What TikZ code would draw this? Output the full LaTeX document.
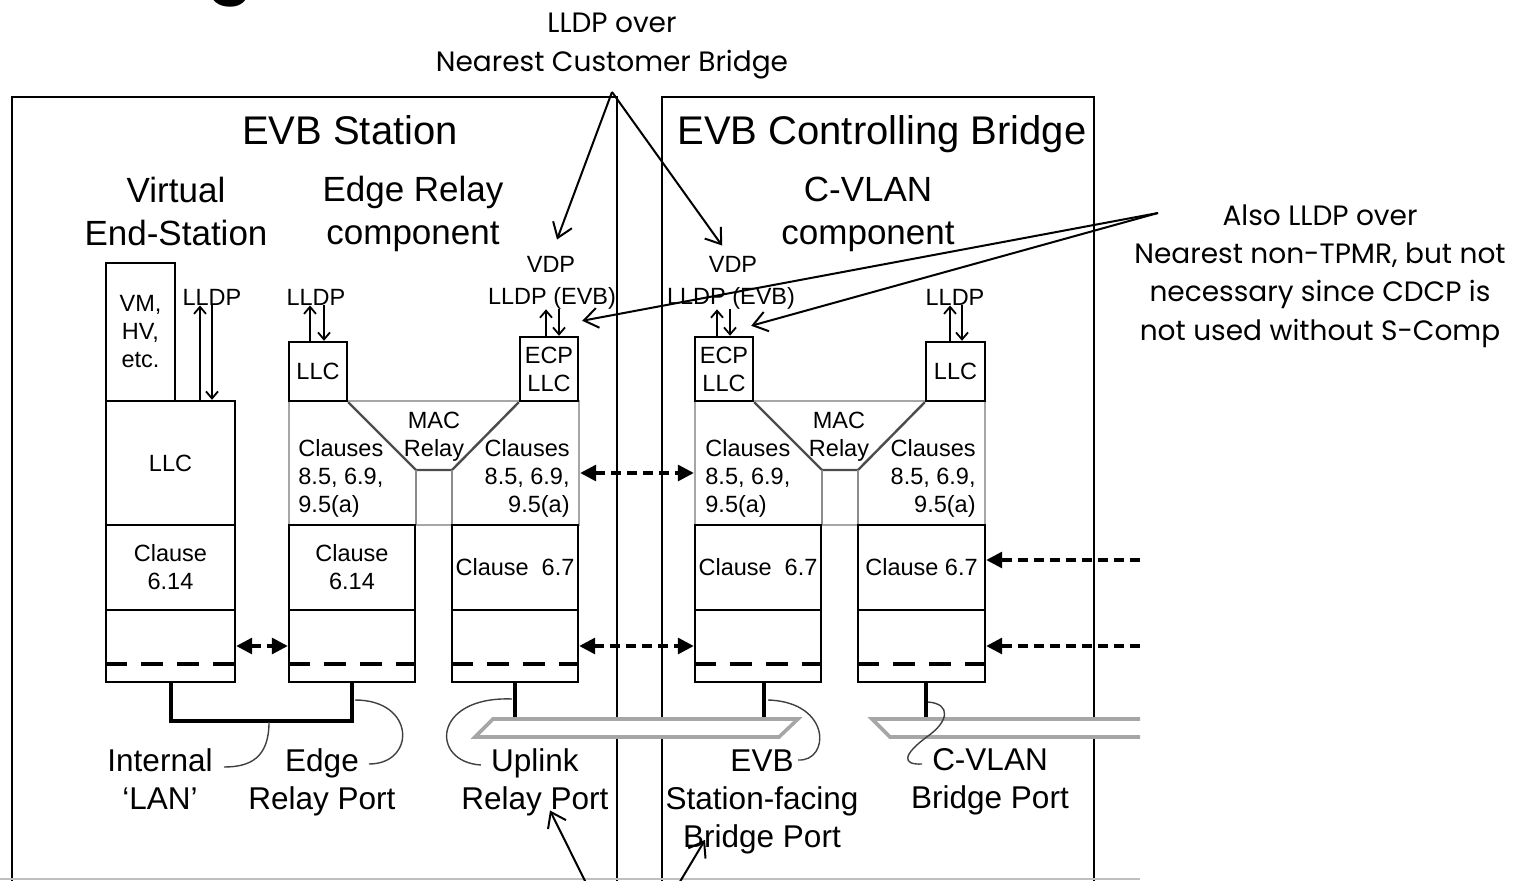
\documentclass[tikz,border=0pt]{standalone}
\usepackage{fontspec}
\setmainfont{Liberation Sans}
\newfontfamily\annfont{Poppins}
\usetikzlibrary{positioning,fit,arrows.meta}

\begin{document}
\begin{tikzpicture}[x=0.5pt, y=-0.5pt,
    frame/.style = {draw, line width=1.1pt, inner sep=0pt},% outer boxes
    blk/.style = {draw, line width=1.2pt, inner sep=0pt},% layer boxes
    relay/.style = {draw=black!35, line width=1.2pt, inner sep=0pt},
    trap/.style = {draw=black!70, line width=1.2pt},
    sep/.style = {draw=black!45, line width=1.2pt},
    small/.style = {inner sep=0pt, align=center, font=\fontsize{11.75}{14}\selectfont},
    head/.style = {inner sep=0pt, font=\fontsize{20}{22}\selectfont},
    comp/.style = {inner sep=0pt, align=center, font=\fontsize{17.5}{21.5}\selectfont},
    port/.style = {inner sep=0pt, align=center, font=\fontsize{15.75}{19}\selectfont},
    note/.style = {inner sep=0pt, align=center, font=\annfont\fontsize{14}{19.5}\selectfont},
    phydash/.style = {line width=2pt, dash pattern=on 11pt off 7pt},
    dashar/.style = {line width=1.6pt, dash pattern=on 5pt off 3pt, >={Triangle[length=8pt,width=8pt]}},
    lldp/.style = {line width=0.9pt, >={Straight Barb[length=3.5pt,width=6pt]}},
    ann/.style = {line width=1pt, >={Straight Barb[length=7pt,width=10pt]}},
    lan/.style = {line width=2pt},
    stub/.style = {line width=1.7pt},
    band/.style = {draw=black!35, line width=1.8pt},
    lead/.style = {draw=black!75, line width=0.7pt}
    ]
    \useasboundingbox (0,0) rectangle (1518,881);
    % remnant of the slide title
    \node[inner sep=0pt, anchor=base, font=\annfont\bfseries\fontsize{34}{34}\selectfont] (ttl) at (231,-11) {g};

    % notes
    \node[note] (nCust) at (612,46) {LLDP over\\Nearest Customer Bridge};
    \node[note, font=\annfont\fontsize{14}{19.2}\selectfont] (nAlso) at (1320,276) {Also LLDP over\\Nearest non-TPMR, but not\\necessary since CDCP is\\not used without S-Comp};

    % outer boxes
    \node[frame, fit={(12,97) (617,960)}] (station) {};
    \node[frame, fit={(662,97) (1094,960)}] (ctrl) {};
    \draw[black!25, line width=0.8pt] (0,879) -- (1140,879);

    \node[head] (tStation) at (350,130) {EVB Station};
    \node[head] (tCtrl) at (882,134) {EVB Controlling Bridge};
    \node[comp] (tVes) at (176,211) {Virtual\\End-Station};
    \node[comp] (tErc) at (413,214) {Edge Relay\\component};
    \node[comp] (tCvl) at (868,214) {C-VLAN\\component};

    % virtual end-station
    \node[blk, fit={(106,263) (175,401)}, label={[small]center:{VM,\\HV,\\etc.}}] (vm) {};
    \node[blk, fit={(106,401) (235,525)}, label={[small]center:LLC}] (llcA) {};
    \node[blk, fit={(106,525) (235,610)}, label={[small]center:{Clause\\6.14}}] (clA) {};
    \node[blk, fit={(106,610) (235,682)}] (phyA) {};
    \node[small] (lldpA) at (212,297) {LLDP};

    % edge relay
    \node[relay, fit={(289,401) (579,525)}] (relB) {};
    \node[blk, fit={(289,342) (347,401)}, label={[small]center:LLC}] (llcB) {};
    \node[blk, fit={(520,337) (578,401)}, label={[small]center:{ECP\\LLC}}] (ecpB) {};
    \draw[trap] (llcB.south east) -- (416,470) -- (452,470) -- (ecpB.south west);
    \draw[sep] (416,470) -- (416,525) (452,470) -- (452,525);
    \node[small] (macB) at (434,437) {MAC\\Relay};
    \node[small, align=left, anchor=west] (clsB) at (298,478) {Clauses\\8.5, 6.9,\\9.5(a)};
    \node[small, align=right, anchor=east] (clsC) at (570,478) {Clauses\\8.5, 6.9,\\9.5(a)};
    \node[blk, fit={(289,525) (415,610)}, label={[small]center:{Clause\\6.14}}] (clB) {};
    \node[blk, fit={(289,610) (415,682)}] (phyB) {};
    \node[blk, fit={(452,525) (578,610)}, label={[small]center:{Clause\ \ 6.7}}] (clC) {};
    \node[blk, fit={(452,610) (578,682)}] (phyC) {};
    \node[small] (lldpB) at (316,297) {LLDP};
    \node[small] (vdpB) at (551,264) {VDP};
    \node[small] (evbB) at (552,298) {LLDP (EVB)};

    % C-VLAN component
    \node[relay, fit={(695,401) (985,525)}] (relD) {};
    \node[blk, fit={(695,337) (753,401)}, label={[small]center:{ECP\\LLC}}] (ecpD) {};
    \node[blk, fit={(926,342) (985,401)}, label={[small]center:LLC}] (llcE) {};
    \draw[trap] (ecpD.south east) -- (822,470) -- (858,470) -- (llcE.south west);
    \draw[sep] (822,470) -- (822,525) (858,470) -- (858,525);
    \node[small] (macD) at (839,437) {MAC\\Relay};
    \node[small, align=left, anchor=west] (clsD) at (705,478) {Clauses\\8.5, 6.9,\\9.5(a)};
    \node[small, align=right, anchor=east] (clsE) at (976,478) {Clauses\\8.5, 6.9,\\9.5(a)};
    \node[blk, fit={(695,525) (821,610)}, label={[small]center:{Clause\ \ 6.7}}] (clD) {};
    \node[blk, fit={(695,610) (821,682)}] (phyD) {};
    \node[blk, fit={(858,525) (985,610)}, label={[small]center:{Clause 6.7}}] (clE) {};
    \node[blk, fit={(858,610) (985,682)}] (phyE) {};
    \node[small] (vdpD) at (733,264) {VDP};
    \node[small] (evbD) at (731,298) {LLDP (EVB)};
    \node[small] (lldpE) at (955,297) {LLDP};

    % dashed split in the port boxes
    \draw[phydash] ([yshift=-9pt]phyA.west) -- ([yshift=-9pt]phyA.east);
    \draw[phydash] ([yshift=-9pt]phyB.west) -- ([yshift=-9pt]phyB.east);
    \draw[phydash] ([yshift=-9pt]phyC.west) -- ([yshift=-9pt]phyC.east);
    \draw[phydash] ([yshift=-9pt]phyD.west) -- ([yshift=-9pt]phyD.east);
    \draw[phydash] ([yshift=-9pt]phyE.west) -- ([yshift=-9pt]phyE.east);

    % LLDP / VDP up and down
    \draw[lldp, ->] ([xshift=14.75pt]llcA.north) -- ([xshift=-6pt]lldpA.south);
    \draw[lldp, ->] (lldpA.south) -- ([xshift=20.75pt]llcA.north);
    \draw[lldp, ->] ([xshift=-4pt]llcB.north) -- ([xshift=-3pt]lldpB.south);
    \draw[lldp, ->] ([xshift=4pt]lldpB.south) -- ([xshift=3pt]llcB.north);
    \draw[lldp, ->] ([xshift=-1.5pt]ecpB.north) -- ([xshift=-3pt]evbB.south);
    \draw[lldp, ->] ([xshift=3.5pt]evbB.south) -- ([xshift=5pt]ecpB.north);
    \draw[lldp, ->] ([xshift=-3.5pt]ecpD.north) -- ([xshift=-7pt]evbD.south);
    \draw[lldp, ->] ([xshift=-0.5pt]evbD.south) -- ([xshift=3pt]ecpD.north);
    \draw[lldp, ->] ([xshift=-2.75pt]llcE.north) -- ([xshift=-2.5pt]lldpE.south);
    \draw[lldp, ->] ([xshift=3.5pt]lldpE.south) -- ([xshift=3.25pt]llcE.north);

    % dashed links
    \coordinate (rin1) at (1140,560);
    \coordinate (rin2) at (1140,646);
    \draw[dashar, <->] (phyA.east) -- (phyB.west);
    \draw[dashar, <->] ([yshift=-5pt]relB.east) -- ([yshift=-5pt]relD.west);
    \draw[dashar, <->] (phyC.east) -- (phyD.west);
    \draw[dashar, ->] (rin1) -- ([yshift=3.75pt]clE.east);
    \draw[dashar, ->] (rin2) -- (phyE.east);

    % internal LAN and port stubs
    \draw[lan] (phyA.south) -- ++(0,38) -| (phyB.south);
    \draw[stub] (phyC.south) -- ++(0,37);
    \draw[stub] ([xshift=3pt]phyD.south) -- ++(0,37);
    \draw[stub] ([xshift=2.25pt]phyE.south) -- ++(0,37);
    \draw[band, fill=white] (493,719) -- (798,719) -- (779,737) -- (475,737) -- cycle;
    \fill[white] (872,719) -- (1140,719) -- (1140,737) -- (890,737) -- cycle;
    \draw[band] (1140,719) -- (872,719) -- (890,737) -- (1140,737);

    % port labels
    \node[port] (nInt) at (160,779) {Internal\\‘LAN’};
    \node[port] (nEdge) at (322,782) {Edge\\Relay Port};
    \node[port] (nUp) at (535,782) {Uplink\\Relay Port};
    \node[port] (nEvb) at (762,802) {EVB\\Station-facing\\Bridge Port};
    \node[port] (nCvl) at (990,782) {C-VLAN\\Bridge Port};
    \draw[lead] (269,722) .. controls (269,758) and (250,767) .. (224,767);
    \draw[lead] (355,700) .. controls (416,700) and (416,764) .. (369,764);
    \draw[lead] (512,699) .. controls (432,696) and (430,762) .. (481,765);
    \draw[lead] (768,700) .. controls (832,702) and (830,762) .. (798,760);
    \draw[lead] (928,702) .. controls (952,704) and (948,722) .. (928,736) .. controls (902,755) and (902,765) .. (922,764);

    % note arrows
    \coordinate (a1) at (612,92);
    \coordinate (a2) at (1158,213);
    \coordinate (a3) at (587,885);
    \coordinate (a4) at (678,885);
    \draw[ann, ->] (a1) -- ([xshift=3pt,yshift=8pt]vdpB.north);
    \draw[ann, ->] (a1) -- ([xshift=-5.5pt,yshift=5pt]vdpD.north);
    \draw[ann, ->] (a2) -- ([xshift=1.5pt,yshift=7.5pt]ecpB.north east);
    \draw[ann, ->] (a2) -- ([xshift=-1.5pt,yshift=5pt]ecpD.north east);
    \draw[ann, ->] (a3) -- ([xshift=7.5pt,yshift=2.8pt]nUp.south);
    \draw[ann, ->] (a4) -- ([xshift=-28.5pt,yshift=7.3pt]nEvb.south);
\end{tikzpicture}
\end{document}
